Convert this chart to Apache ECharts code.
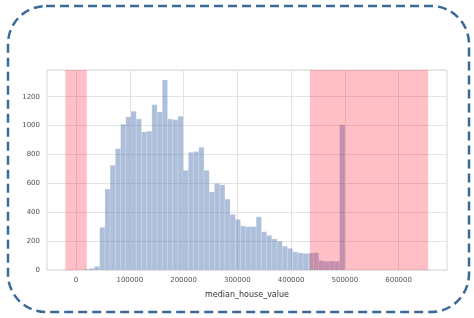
<!DOCTYPE html>
<html>
<head>
<meta charset="utf-8">
<script src="https://cdn.jsdelivr.net/npm/echarts@6/dist/echarts.min.js"></script>
<style>
  html, body { margin: 0; padding: 0; background: #fff; }
  #chart { width: 474px; height: 318px; }
</style>
</head>
<body>
<div id="chart"></div>
<script>
// histogram of median_house_value, 50 equal bins
const binStart = 14999
const binEnd = 500001
const counts = [
  5, 12, 25, 295, 560, 725, 840, 1010, 1060, 1100,
  1045, 955, 960, 1145, 1095, 1315, 1045, 1040, 1065, 690,
  815, 820, 850, 690, 540, 600, 590, 490, 385, 350,
  305, 300, 300, 368, 265, 240, 215, 200, 165, 150,
  125, 118, 115, 118, 120, 65, 60, 62, 60, 1005
]

// shaded ranges (axvspan)
const spans = [
  [-20000, 20000],
  [435000, 655000]
]

const xTicks = [0, 100000, 200000, 300000, 400000, 500000, 600000]

const xMin = -54000
const xMax = 690000
const yMax = 1385

const binWidth = (binEnd - binStart) / counts.length
const histData = counts.map((c, i) => [binStart + i * binWidth, binStart + (i + 1) * binWidth, c])

const chart = echarts.init(document.getElementById('chart'))

const labelStyle = { color: '#555', fontSize: 7, fontFamily: 'DejaVu Sans', formatter: (v) => String(v) }

chart.setOption({
  animation: false,
  backgroundColor: '#fff',
  grid: {
    left: 47, right: 27, top: 70, bottom: 48,
    show: true, borderColor: '#d6d6d6', borderWidth: 1
  },
  xAxis: {
    type: 'value',
    min: xMin,
    max: xMax,
    name: 'median_house_value',
    nameLocation: 'middle',
    nameGap: 21,
    nameTextStyle: { color: '#333', fontSize: 8, fontFamily: 'DejaVu Sans' },
    axisLine: { show: false },
    axisTick: { show: false },
    splitLine: { show: false },
    axisLabel: { ...labelStyle, margin: 7, customValues: xTicks }
  },
  yAxis: {
    type: 'value',
    min: 0,
    max: yMax,
    interval: 200,
    axisLine: { show: false },
    axisTick: { show: false },
    splitLine: { lineStyle: { color: '#e3e3e3', width: 1 } },
    axisLabel: { ...labelStyle, margin: 7, showMaxLabel: false }
  },
  series: [
    {
      // vertical grid lines
      type: 'line',
      data: [],
      z: 1,
      silent: true,
      markLine: {
        silent: true,
        z: 1,
        symbol: 'none',
        label: { show: false },
        lineStyle: { color: '#e3e3e3', type: 'solid', width: 1 },
        data: xTicks.map((v) => ({ xAxis: v }))
      }
    },
    {
      type: 'custom',
      z: 2,
      data: histData,
      encode: { x: [0, 1], y: 2 },
      renderItem: (params, api) => {
        const p0 = api.coord([api.value(0), api.value(2)])
        const p1 = api.coord([api.value(1), 0])
        return {
          type: 'rect',
          shape: { x: p0[0], y: p0[1], width: p1[0] - p0[0], height: p1[1] - p0[1] },
          style: { fill: 'rgba(76,114,176,0.45)', stroke: 'rgba(255,255,255,0.35)', lineWidth: 0.5 }
        }
      }
    },
    {
      type: 'line',
      data: [],
      z: 5,
      silent: true,
      markArea: {
        silent: true,
        z: 5,
        itemStyle: { color: 'rgba(255,0,30,0.25)' },
        data: spans.map(([a, b]) => [{ xAxis: a }, { xAxis: b }])
      }
    }
  ],
  graphic: [
    {
      type: 'rect',
      z: 100,
      silent: true,
      shape: { x: 8, y: 6, width: 461, height: 306, r: 38 },
      style: { fill: 'none', stroke: '#3b6a98', lineWidth: 2.5, lineDash: [9, 5] }
    }
  ]
})
</script>
</body>
</html>
